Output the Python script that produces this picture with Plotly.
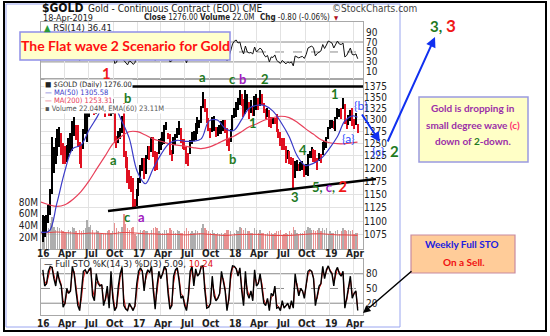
import math
import pandas as pd
import plotly.graph_objects as go

W, H = 550, 336

# ---------------- data ----------------
week_end = pd.date_range("2016-01-08", periods=172, freq="W-FRI")

price_high = [
    1112, 1110, 1112, 1129, 1160, 1263, 1244, 1262, 1280, 1284, 1272, 1252, 1246, 1247, 1262, 1272, 1297, 1306, 1290, 1290,
    1253, 1247, 1281, 1318, 1362, 1347, 1377, 1364, 1340, 1355, 1375, 1356, 1365, 1349, 1331, 1355, 1334, 1345, 1346, 1326,
    1265, 1276, 1282, 1308, 1338, 1234, 1222, 1196, 1185, 1181, 1140, 1160,
    1182, 1206, 1220, 1220, 1226, 1245, 1246, 1264, 1264, 1235, 1232, 1259, 1262, 1274, 1290, 1296, 1273, 1270, 1237, 1264,
    1270, 1283, 1298, 1282, 1260, 1260, 1244, 1231, 1257, 1274, 1277, 1294, 1306, 1299, 1331, 1362, 1346, 1327, 1305, 1283,
    1306, 1308, 1286, 1285, 1290, 1298, 1299, 1300, 1282, 1262, 1281, 1310,
    1326, 1340, 1347, 1366, 1356, 1346, 1365, 1358, 1339, 1343, 1330, 1352, 1358, 1348, 1366, 1356, 1338, 1323, 1325, 1321,
    1307, 1307, 1304, 1313, 1281, 1274, 1262, 1262, 1245, 1237, 1236, 1222, 1220, 1215, 1217, 1209, 1212, 1214, 1207, 1209,
    1229, 1236, 1244, 1240, 1238, 1220, 1230, 1229, 1253, 1256, 1264, 1286,
    1300, 1299, 1298, 1306, 1327, 1324, 1325, 1347, 1335, 1301, 1311, 1321, 1326, 1301, 1316, 1292,
]
price_low = [
    1062, 1071, 1080, 1096, 1111, 1150, 1191, 1209, 1224, 1243, 1227, 1208, 1208, 1213, 1223, 1230, 1234, 1266, 1258, 1243,
    1208, 1200, 1240, 1270, 1253, 1306, 1332, 1323, 1310, 1313, 1334, 1330, 1336, 1317, 1306, 1323, 1309, 1309, 1312, 1252,
    1242, 1251, 1259, 1272, 1222, 1200, 1172, 1160, 1155, 1123, 1124, 1127,
    1146, 1172, 1195, 1180, 1188, 1218, 1216, 1232, 1223, 1195, 1196, 1229, 1238, 1247, 1250, 1278, 1260, 1226, 1214, 1228,
    1248, 1261, 1268, 1252, 1240, 1238, 1208, 1204, 1228, 1250, 1256, 1257, 1271, 1282, 1293, 1326, 1317, 1294, 1277, 1262,
    1275, 1276, 1264, 1267, 1270, 1271, 1277, 1272, 1245, 1236, 1253, 1277,
    1305, 1307, 1322, 1333, 1330, 1307, 1313, 1321, 1303, 1316, 1309, 1308, 1322, 1322, 1330, 1333, 1315, 1302, 1307, 1285,
    1282, 1291, 1291, 1275, 1261, 1246, 1238, 1237, 1211, 1219, 1208, 1207, 1160, 1181, 1195, 1194, 1194, 1196, 1183, 1187,
    1186, 1220, 1221, 1213, 1210, 1196, 1215, 1211, 1226, 1238, 1242, 1259,
    1280, 1282, 1280, 1276, 1302, 1306, 1302, 1323, 1291, 1281, 1290, 1297, 1288, 1280, 1289, 1273,
]
volume_m = [
    36, 32, 31, 35, 45, 55, 38, 33, 38, 35, 33, 31, 28, 27, 32, 31, 38, 36, 30, 28,
    33, 31, 32, 36, 50, 38, 41, 32, 28, 33, 31, 26, 28, 26, 27, 31, 33, 28, 31, 45,
    36, 31, 28, 38, 60, 42, 36, 33, 35, 38, 26, 23,
    28, 33, 31, 32, 31, 30, 26, 32, 36, 38, 35, 31, 28, 27, 33, 32, 28, 36, 33, 30,
    28, 32, 31, 28, 27, 31, 36, 31, 28, 30, 27, 32, 31, 28, 36, 42, 35, 33, 31, 28,
    33, 27, 26, 27, 25, 28, 26, 28, 33, 32, 30, 23,
    28, 33, 31, 38, 36, 33, 35, 31, 30, 28, 27, 36, 32, 28, 33, 27, 28, 26, 27, 31,
    27, 26, 27, 31, 30, 33, 23, 25, 28, 26, 31, 28, 38, 32, 27, 26, 28, 27, 30, 33,
    38, 36, 33, 32, 31, 33, 35, 31, 36, 32, 35, 26,
    31, 28, 27, 31, 32, 26, 30, 36, 33, 31, 32, 31, 33, 26, 28, 28,
]
rsi14 = [
    62, 55, 57, 63, 72, 78, 68, 64, 70, 62, 60, 45, 47, 55, 52, 51, 70, 66, 56, 44,
    33, 50, 62, 66, 70, 72, 75, 55, 52, 63, 58, 56, 57, 45, 48, 54, 44, 58, 47, 27,
    29, 42, 48, 60, 33, 29, 24, 32, 30, 25, 28, 45,
    55, 62, 63, 50, 60, 63, 62, 68, 50, 33, 52, 60, 58, 62, 70, 68, 52, 30, 32, 52,
    58, 63, 58, 47, 47, 40, 28, 40, 55, 63, 55, 65, 63, 64, 72, 76, 60, 46, 40, 38,
    56, 45, 42, 43, 45, 55, 52, 48, 32, 40, 52, 66,
    72, 74, 68, 70, 55, 46, 62, 50, 48, 49, 46, 60, 50, 54, 58, 54, 45, 40, 43, 30,
    40, 39, 44, 33, 30, 27, 33, 29, 26, 30, 28, 30, 22, 42, 40, 38, 40, 41, 37, 45,
    58, 60, 62, 58, 42, 47, 50, 52, 65, 57, 64, 72,
    70, 68, 58, 66, 72, 66, 65, 68, 40, 43, 50, 58, 45, 44, 46, 36.41,
]
sto_k = [
    88, 55, 60, 85, 95, 93, 70, 55, 85, 65, 55, 12, 20, 50, 40, 45, 95, 80, 45, 15,
    5, 45, 85, 88, 80, 88, 92, 35, 25, 80, 60, 55, 58, 15, 30, 55, 10, 85, 30, 5,
    12, 55, 80, 93, 15, 8, 5, 20, 12, 5, 15, 60,
    85, 92, 85, 45, 78, 88, 82, 95, 45, 8, 55, 85, 70, 80, 95, 88, 40, 8, 15, 75,
    88, 92, 65, 30, 35, 15, 5, 35, 85, 95, 55, 90, 75, 80, 95, 96, 45, 10, 12, 20,
    75, 35, 25, 30, 40, 85, 65, 45, 5, 30, 80, 96,
    95, 90, 75, 92, 45, 15, 85, 40, 30, 45, 25, 88, 55, 60, 80, 55, 20, 15, 30, 5,
    40, 35, 55, 10, 12, 5, 25, 10, 15, 20, 8, 25, 10, 80, 55, 35, 50, 45, 30, 60,
    85, 88, 85, 70, 15, 35, 55, 60, 95, 70, 88, 96,
    85, 80, 55, 85, 93, 80, 75, 85, 10, 30, 55, 75, 30, 40, 45, 5.09,
]
sto_d = [
    80, 65, 58, 75, 90, 94, 78, 62, 75, 70, 58, 25, 18, 40, 45, 44, 85, 85, 55, 25,
    10, 30, 70, 86, 82, 85, 90, 50, 30, 62, 65, 57, 57, 25, 25, 45, 20, 65, 40, 12,
    10, 40, 72, 88, 30, 10, 6, 15, 13, 8, 12, 45,
    75, 88, 87, 55, 70, 85, 84, 92, 55, 18, 42, 75, 75, 78, 90, 90, 52, 15, 14, 60,
    84, 90, 72, 40, 35, 20, 8, 28, 72, 92, 65, 82, 78, 80, 92, 95, 55, 18, 12, 18,
    62, 42, 28, 30, 38, 75, 70, 50, 12, 25, 68, 92,
    94, 91, 80, 88, 55, 22, 72, 48, 35, 42, 30, 78, 62, 60, 75, 60, 28, 18, 28, 10,
    32, 35, 50, 18, 12, 8, 20, 12, 14, 18, 10, 20, 12, 65, 60, 40, 48, 45, 34, 55,
    78, 86, 85, 72, 25, 30, 50, 58, 88, 75, 85, 94,
    88, 82, 62, 78, 90, 84, 78, 82, 22, 25, 48, 70, 38, 38, 43, 10.24,
]

month_pts = list(pd.date_range("2016-01-01", periods=40, freq="MS")) + [pd.Timestamp("2019-04-18")]
ma50 = [
    1080, 1082, 1132, 1195, 1240, 1247, 1278, 1306, 1336, 1334, 1300, 1262,
    1194, 1170, 1198, 1228, 1250, 1257, 1255, 1255, 1260, 1298, 1300, 1282,
    1277, 1300, 1325, 1332, 1331, 1319, 1295, 1265, 1225, 1206, 1210, 1220,
    1240, 1265, 1298, 1309, 1305.58,
]
ma200 = [
    1135, 1130, 1127, 1130, 1140, 1155, 1175, 1200, 1225, 1250, 1265, 1275,
    1275, 1268, 1260, 1255, 1250, 1247, 1245, 1242, 1240, 1243, 1250, 1258,
    1265, 1275, 1285, 1292, 1300, 1305, 1308, 1305, 1295, 1282, 1270, 1258,
    1252, 1250, 1250, 1252, 1253.31,
]
vol_ema60 = [
    27, 28, 29, 28, 27, 26, 27, 27, 26, 26, 28, 28,
    27, 26, 26, 25, 25, 25, 24, 25, 26, 25, 24, 23,
    24, 25, 25, 25, 24, 23, 23, 23, 24, 25, 26, 26,
    25, 24, 24, 23.5, 23.11,
]

price_ticks = list(range(1075, 1376, 25))
vol_ticks = [20, 40, 60, 80]
rsi_ticks = [10, 30, 50, 70, 90]
sto_ticks = [20, 50, 80]
quarter_starts = pd.date_range("2016-01-01", "2019-04-01", freq="QS")
quarter_text = ["16", "Apr", "Jul", "Oct", "17", "Apr", "Jul", "Oct",
                "18", "Apr", "Jul", "Oct", "19", "Apr"]

for series in (price_low, volume_m, rsi14, sto_k, sto_d):
    assert len(series) == len(price_high)
for series in (ma50, ma200, vol_ema60):
    assert len(series) == len(month_pts)

# ---------------- styling helpers ----------------
SC_FONT = "Liberation Sans Narrow, Arial Narrow, DejaVu Sans Condensed, Roboto, sans-serif"
NOTE_FONT = "Lato, Carlito, Roboto, sans-serif"
GREEN = "#1f7a1f"
RED = "#f01818"
PURPLE = "#a01cc0"
BLUE = "#2f4dff"


def px(x):
    return x / W


def py(y):
    return 1 - y / H


DAY_MS = 86400000
mid = [(h + l) / 2 for h, l in zip(price_high, price_low)]
rising = [True] + [mid[i] >= mid[i - 1] for i in range(1, len(mid))]
bar_colors = ["#000000" if r else "#e01020" for r in rising]
vol_colors = ["rgba(140,140,140,0.7)" if r else "rgba(222,100,100,0.7)" for r in rising]

fig = go.Figure()

# volume (base axis of the price panel, drawn underneath)
fig.add_trace(go.Bar(x=week_end, y=[v * 1e6 for v in volume_m], marker_color=vol_colors,
                     marker_line_width=0, width=5 * DAY_MS, xaxis="x", yaxis="y"))
fig.add_trace(go.Scatter(x=month_pts, y=[v * 1e6 for v in vol_ema60], mode="lines",
                         line=dict(color="#e84848", width=1, shape="spline"), xaxis="x", yaxis="y"))

# price bars and moving averages (overlay axis, log scale)
fig.add_trace(go.Bar(x=week_end, base=price_low,
                     y=[h - l for h, l in zip(price_high, price_low)],
                     marker_color=bar_colors, marker_line_width=0, width=5 * DAY_MS,
                     xaxis="x", yaxis="y2"))
fig.add_trace(go.Scatter(x=month_pts, y=ma200, mode="lines",
                         line=dict(color="#e8405a", width=1.2, shape="spline"), xaxis="x", yaxis="y2"))
fig.add_trace(go.Scatter(x=month_pts, y=ma50, mode="lines",
                         line=dict(color="#3a3ac8", width=1.2, shape="spline"), xaxis="x", yaxis="y2"))

# RSI panel
fig.add_trace(go.Scatter(x=week_end, y=rsi14, mode="lines",
                         line=dict(color="#111111", width=1), xaxis="x2", yaxis="y3"))

# stochastic panel
fig.add_trace(go.Scatter(x=week_end, y=sto_d, mode="lines",
                         line=dict(color="#e01010", width=1), xaxis="x3", yaxis="y4"))
fig.add_trace(go.Scatter(x=week_end, y=sto_k, mode="lines",
                         line=dict(color="#000000", width=1.4), xaxis="x3", yaxis="y4"))

x_dom = [px(41), px(363)]
x_range = ["2016-01-01", "2019-05-09"]
grid = "#e2e2e2"
frame = "#a8a8a8"
tickfont = dict(family=SC_FONT, size=10, color="#222222")

common_x = dict(domain=x_dom, type="date", range=x_range, tickvals=quarter_starts,
                showticklabels=False, showgrid=True, gridcolor=grid,
                showline=True, linecolor=frame, mirror=True, ticks="", zeroline=False)

fig.update_layout(
    width=W, height=H, margin=dict(l=0, r=0, t=0, b=0),
    paper_bgcolor="white", plot_bgcolor="white", showlegend=False,
    barmode="overlay", bargap=0,
    xaxis=dict(common_x, anchor="y"),
    xaxis2=dict(common_x, anchor="y3", matches="x"),
    xaxis3=dict(common_x, anchor="y4", matches="x"),
    yaxis=dict(domain=[py(249), py(79)], range=[0, 290e6], side="left",
               tickvals=[v * 1e6 for v in vol_ticks], ticktext=[f"{v}M" for v in vol_ticks],
               showgrid=False, zeroline=False, ticks="", tickfont=tickfont,
               showline=True, linecolor=frame, mirror=True),
    yaxis2=dict(overlaying="y", side="right", type="log",
                range=[math.log10(1050.4), math.log10(1391)], tickvals=price_ticks,
                showgrid=True, gridcolor=grid, zeroline=False, ticks="", tickfont=tickfont),
    yaxis3=dict(domain=[py(79), py(22)], range=[-4.4, 110.3], side="right", tickvals=rsi_ticks,
                showgrid=False, zeroline=False, ticks="", tickfont=tickfont,
                showline=True, linecolor=frame, mirror=True),
    yaxis4=dict(domain=[py(315), py(259)], range=[-4, 110], side="right", tickvals=sto_ticks,
                showgrid=False, zeroline=False, ticks="", tickfont=tickfont,
                showline=True, linecolor=frame, mirror=True),
)

shapes = []
# oscillator reference levels
for yref, lo, md, hi in (("y3", 30, 50, 70), ("y4", 20, 50, 80)):
    xr = "x2 domain" if yref == "y3" else "x3 domain"
    for lvl, dash in ((lo, "solid"), (hi, "solid"), (md, "dash")):
        shapes.append(dict(type="line", xref=xr, x0=0, x1=1, yref=yref, y0=lvl, y1=lvl,
                           line=dict(color="#8a8a8a", width=1, dash=dash), layer="below"))

# trend lines
shapes.append(dict(type="line", xref="paper", yref="paper", x0=px(121), x1=px(363),
                   y0=py(86.5), y1=py(86.5), line=dict(color="black", width=2.5)))
shapes.append(dict(type="line", xref="paper", yref="paper", x0=px(108), x1=px(376),
                   y0=py(211), y1=py(179), line=dict(color="black", width=2.5)))

# callout boxes
shapes.append(dict(type="rect", xref="paper", yref="paper", x0=px(20), x1=px(230),
                   y0=py(60), y1=py(32), fillcolor="#ffffcc", line=dict(color="#8f8fe8", width=1.5)))
shapes.append(dict(type="rect", xref="paper", yref="paper", x0=px(419), x1=px(528),
                   y0=py(162), y1=py(97), fillcolor="#ffffc6", line=dict(color="#9a9ae0", width=1.5)))
shapes.append(dict(type="rect", xref="paper", yref="paper", x0=px(411), x1=px(515),
                   y0=py(273), y1=py(235), fillcolor="#ffcc99", line=dict(color="#c88aa0", width=1.2)))

# frames
shapes.append(dict(type="rect", xref="paper", yref="paper", x0=px(6), x1=px(400),
                   y0=py(327), y1=py(4), line=dict(color="#9aa6f0", width=1)))
shapes.append(dict(type="rect", xref="paper", yref="paper", x0=px(4), x1=px(546),
                   y0=py(331), y1=py(2), line=dict(color="black", width=2)))

annotations = []


def note(x, y, text, color="#222", size=10, family=SC_FONT, xanchor="left", bg=None):
    annotations.append(dict(xref="paper", yref="paper", x=px(x), y=py(y), text=text,
                            showarrow=False, xanchor=xanchor, yanchor="middle",
                            font=dict(family=family, size=size, color=color),
                            bgcolor=bg, borderpad=0))


# date labels under the price panel and the stochastic panel
for d, t in zip(quarter_starts, quarter_text):
    for row in (253.5, 323):
        annotations.append(dict(xref="x", yref="paper", x=str(d.date()), y=py(row),
                                text=f"<b>{t}</b>", showarrow=False, xanchor="center",
                                yanchor="middle", xshift=2,
                                font=dict(family=SC_FONT, size=10, color="#222")))

# header
note(41, 8, "<b>$GOLD</b>", "#111", 12)
note(87, 8.5, "Gold - Continuous Contract (EOD) CME", "#222", 10)
note(331, 8.5, "©StockCharts.com", "#444", 10)
note(42, 17.5, "18-Apr-2019", "#222", 9)
note(143, 17.5, "<b>Close</b> 1276.00", "#222", 8)
note(199, 17.5, "<b>Volume</b> 22.0M", "#222", 8)
note(259, 17.5, "<b>Chg</b> -0.80 (-0.06%)", "#222", 8)
note(333, 17.5, "▼", "#b01020", 6)
note(43, 27, "<span style='color:#2a9a3a'>▲</span> RSI(14) 36.41", "#222", 9.5)

# price legend
note(44, 84.5, "■ $GOLD (Daily) 1276.00", "#222", 7.5, bg="white")
note(44, 92.5, "<span style='color:#3a3ac8'>—</span> MA(50) 1305.58", "#3a3ac8", 7.5, bg="white")
note(44, 100.5, "<span style='color:#e8405a'>—</span> MA(200) 1253.31", "#e8405a", 7.5, bg="white")
note(44, 108.5, "▪ Volume 22.04M, EMA(60) 23.11M", "#555", 7.5, bg="white")

# stochastic title
note(43, 263.5, "— Full STO %K(14,3) %D(3) 5.09, <span style='color:#e01010'>10.24</span>", "#222", 9.5)

# callout texts
note(125, 46, "<b>The Flat wave 2 Scenario for Gold</b>", "#ff1010", 14, NOTE_FONT, "center")
note(473, 108, "<b>Gold is dropping in</b>", "#9b2fa8", 10, NOTE_FONT, "center")
note(473, 125, "<b>small degree wave <span style='color:#ff3070'>(c)</span></b>", "#9b2fa8", 10, NOTE_FONT, "center")
note(473, 141, "<b>down of <span style='color:#1f7a1f'>2</span>-down.</b>", "#9b2fa8", 10, NOTE_FONT, "center")
note(462, 244, "<b>Weekly Full STO</b>", "#2020e0", 10, NOTE_FONT, "center")
note(464, 262, "<b>On a Sell.</b>", "#f01010", 10, NOTE_FONT, "center")

# wave labels
note(106, 73, "<b>1</b>", RED, 15, NOTE_FONT, "center")
note(127, 98, "<b>b</b>", GREEN, 13, NOTE_FONT, "center")
note(113, 160, "<b>a</b>", GREEN, 13, NOTE_FONT, "center")
note(127, 217, "<b>c</b>", GREEN, 13, NOTE_FONT, "center")
note(141, 217, "<b>a</b>", PURPLE, 13, NOTE_FONT, "center")
note(202, 77, "<b>a</b>", GREEN, 13, NOTE_FONT, "center")
note(232, 79, "<b>c</b>", GREEN, 13, NOTE_FONT, "center")
note(242, 79, "<b>b</b>", PURPLE, 13, NOTE_FONT, "center")
note(265, 79, "<b>2</b>", GREEN, 13, NOTE_FONT, "center")
note(232, 159, "<b>b</b>", GREEN, 13, NOTE_FONT, "center")
note(253, 123, "<b>1</b>", GREEN, 13, NOTE_FONT, "center")
note(303, 150, "<b>4</b>", GREEN, 13, NOTE_FONT, "center")
note(295, 197, "<b>3</b>", GREEN, 13, NOTE_FONT, "center")
note(335, 94, "<b>1</b>", GREEN, 13, NOTE_FONT, "center")
note(329, 186, "<b><span style='color:#1f7a1f'>5</span>, <span style='color:#a01cc0'>c</span>, "
               "<span style='color:#f01818;font-size:15px'>2</span></b>", GREEN, 13, NOTE_FONT, "center")
note(361, 105, "{b}", BLUE, 12, NOTE_FONT, "center")
note(348, 138, "{a}", BLUE, 12, NOTE_FONT, "center")
note(378, 152, "{c}", BLUE, 12, NOTE_FONT, "center")
note(394, 151, "<b>2</b>", GREEN, 15, NOTE_FONT, "center")
note(443, 26, "<b><span style='color:#1f7a1f'>3,</span> <span style='color:#f01818;font-size:17px'>3</span></b>",
     GREEN, 15, NOTE_FONT, "center")


def arrow(tail, head, color, width):
    annotations.append(dict(xref="paper", yref="paper", x=px(head[0]), y=py(head[1]),
                            ax=tail[0] - head[0], ay=tail[1] - head[1], text="",
                            showarrow=True, arrowhead=2, arrowsize=1, arrowwidth=width,
                            arrowcolor=color, standoff=0))


arrow((361, 113), (380, 142), "#1030f0", 2)
arrow((387, 143), (435, 37), "#1030f0", 2)
arrow((413, 270), (363, 313), "black", 1.5)

fig.update_layout(shapes=shapes, annotations=annotations)
fig.write_html("out.html")
